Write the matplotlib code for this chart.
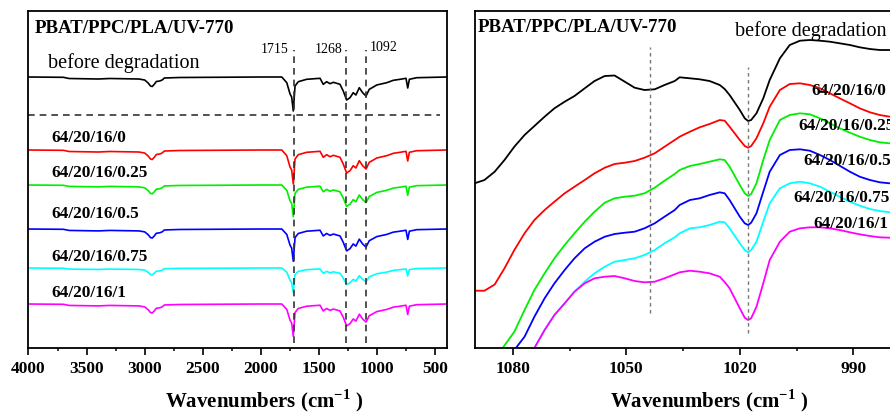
import matplotlib.pyplot as plt
import numpy as np

plt.rcParams['font.family'] = ['Liberation Serif', 'DejaVu Serif']
plt.rcParams['mathtext.fontset'] = 'custom'
plt.rcParams['mathtext.rm'] = 'Liberation Serif'
plt.rcParams['mathtext.bf'] = 'Liberation Serif:bold'

samples = ['before degradation', '64/20/16/0', '64/20/16/0.25',
           '64/20/16/0.5', '64/20/16/0.75', '64/20/16/1']
colors = ['black', '#ff0000', '#00ee00', '#0000ff', '#00ffff', '#ff00ff']

# ---- left panel: full FTIR spectra (depth of absorption below each baseline)
wn_full = [4000, 3700, 3650, 3400, 3300, 3050, 3000, 2970, 2950, 2935, 2915,
           2900, 2870, 2850, 2830, 2700, 2000, 1820, 1777, 1749, 1735, 1721,
           1706, 1678, 1606, 1491, 1463, 1434, 1405, 1376, 1319, 1291, 1262,
           1233, 1205, 1182, 1153, 1124, 1095, 1067, 1032, 1003, 917, 860,
           802, 751, 736, 722, 659, 400]
depth_full = [0, 0.3, 1.5, 2, 1.5, 2, 3, 6, 9, 9.5, 7,
              4.5, 4, 3, 1, 0.5, 0, 0, 5.7, 17, 20, 34,
              9, 4.7, 2.3, 1.3, 7.3, 4.7, 6.7, 5.3, 7.3, 14, 23,
              20.7, 15.7, 18, 10.7, 15.7, 19, 12.3, 10, 8, 5.7, 3.3,
              2.3, 1.3, 11, 2.3, 0.7, 0]
full_baseline = [271, 198, 163, 119, 80, 44]
full_scale = [1.0, 1.0, 0.93, 0.95, 0.72, 0.95]
full_label_y = [279.7, 206.3, 171.3, 129.7, 87, 51.3]
marked_peaks = [1715, 1268, 1092]

# ---- right panel: zoom 1090-979 cm-1
wn_a = [1087.5, 1084.8, 1082.2, 1079.6, 1076.9, 1074.3, 1071.6, 1069.0, 1066.3,
        1063.7, 1061.0, 1058.4, 1055.7, 1053.1, 1050.4, 1047.8, 1045.2, 1042.5,
        1039.9, 1037.2]
wn_b = [1035.9, 1033.2, 1030.6, 1028.0, 1025.3, 1024.0, 1022.7, 1020.0, 1018.7,
        1017.8, 1017.0, 1015.6, 1013.8, 1012.1, 1009.4, 1006.8, 1004.1, 1001.5,
        998.8, 996.2, 993.6, 990.9, 988.3, 985.6, 983.0, 980.4, 979.0]

zoom_wn = {
    'before degradation': [1090.1] + wn_a + wn_b,
    '64/20/16/0': [1090.1] + wn_a + wn_b,
    '64/20/16/0.25': [1083.8, 1082.7] + wn_a[3:] + wn_b,
    '64/20/16/0.5': [1080.3, 1079.2] + wn_a[4:] + wn_b,
    '64/20/16/0.75': [1075.4, 1074.3] + wn_a[6:] + wn_b,
    '64/20/16/1': [1075.4, 1074.3] + wn_a[6:] + wn_b,
}
zoom_int = {
    'before degradation': [164.7, 168, 176.3, 188, 201.3, 213, 222, 231.3, 239.7, 246.3,
                           252, 259.7, 267, 272, 272.5, 266.3, 260.3, 258, 258.7, 263, 267,
                           270.7, 269.7, 268.7, 267, 263, 259, 253, 238, 229.7, 227, 228,
                           234.7, 249.7, 268, 289.7, 303, 307.3, 308, 307.3, 306.3, 304.7,
                           303, 300.7, 299, 298, 298, 298],
    '64/20/16/0': [57.3, 57.3, 63.5, 79.7, 98, 114.7, 128, 138, 146.3, 154.7,
                   161.3, 168, 174.7, 180.3, 184, 185.3, 187, 190.3, 194.7, 201.3, 208,
                   211.3, 216.3, 220.7, 224, 228, 227.3, 221.3, 208, 202, 200.3, 202,
                   209.7, 224.7, 241.3, 258, 264, 264.7, 263, 259.7, 254.7, 249.7,
                   244.7, 239.7, 235.7, 233, 231.3, 230.5],
    '64/20/16/0.25': [-10, 0, 16.3, 38, 58, 74.7, 89.7, 103, 114.7, 126.3, 136.3,
                      145.3, 149.7, 151.3, 152.3, 154.7, 160.3, 167.3, 174,
                      178, 182, 184, 186.3, 188.7, 188, 181.3, 163, 154.7, 152, 154,
                      164.7, 188, 208, 228, 233, 234.7, 233.7, 229.7, 224.7, 219.7,
                      215.3, 211.3, 208, 205.7, 204.7, 204.3],
    '64/20/16/0.5': [-10, 0, 11.3, 31.3, 49.7, 64.7, 78, 89.7, 99.7, 106.3, 111.3,
                     114, 115.3, 116.3, 119.7, 124.7, 131.3, 138,
                     143, 148, 149.7, 153, 155.7, 154.7, 148, 131.3, 124.7, 123, 125.3,
                     134.7, 156.3, 176.3, 193, 198, 198.7, 197.3, 193, 188, 182.3,
                     176.3, 171.3, 168, 165.7, 164.7, 164.3],
    '64/20/16/0.75': [-10, 0, 18, 33, 44.7, 56.3, 66.3, 74.7, 81.3, 86.3, 88, 89.7,
                      93, 98, 104.7, 110.7,
                      114.7, 119.7, 120.7, 123, 126.3, 125.7, 119.7, 104.7, 98, 95.7, 98,
                      106.3, 126.3, 144.7, 159.7, 164.7, 166.3, 164.7, 161.3, 156.3,
                      151.3, 146.3, 142.3, 139, 137, 135.7, 135.3],
    '64/20/16/1': [-10, 0, 18, 33, 44.7, 56.3, 64.7, 69.7, 71.3, 72, 69.7, 67,
                   65.7, 66.3, 69.7, 73.7,
                   75.7, 77.3, 76.3, 74.7, 71.3, 66, 59.7, 39.7, 30.3, 28, 29.7,
                   41.3, 64.7, 88, 106.3, 116.3, 119.7, 120.7, 120.7, 119.7, 118,
                   115.7, 113.7, 112, 110.7, 110.3, 110],
}
zoom_label_x = [1021.3, 1001.0, 1004.6, 1003.3, 1005.9, 1000.6]
zoom_label_y = [312, 253, 218, 183, 146.3, 119.7]
zoom_marks = [1043.7, 1017.8]
zoom_mark_top = [301.3, 281.3]
zoom_mark_bottom = [34.7, 14.7]

fig = plt.figure(figsize=(8.9, 4.12), dpi=100)
ax1 = fig.add_axes([0.032, 0.1553, 0.470, 0.818])
ax2 = fig.add_axes([0.5337, 0.1553, 0.4697, 0.818])

tick_font = dict(fontsize=12.5, fontweight='bold')
for ax in (ax1, ax2):
    for sp in ax.spines.values():
        sp.set_linewidth(1.3)
    ax.set_yticks([])
    ax.set_ylim(0, 337)
    ax.tick_params(axis='x', which='major', direction='out', length=5, width=1.2, pad=4)
    ax.tick_params(axis='x', which='minor', direction='out', length=2.5, width=1.1)
    ax.set_xlabel('Wavenumbers (cm$^{\\mathbf{-1}}$ )', fontsize=15, fontweight='bold')
    ax.xaxis.label.set_va('top')

# left panel
wn_full = np.array(wn_full)
depth_full = np.array(depth_full)
for i, name in enumerate(samples):
    y = full_baseline[i] - full_scale[i] * depth_full
    ax1.plot(wn_full, y, color=colors[i], lw=1.2)
    if i == 0:
        ax1.text(3830, full_label_y[i], name, fontsize=14.5, va='baseline')
    else:
        ax1.text(3800, full_label_y[i], name, fontsize=12.4, fontweight='bold', va='baseline')

for p in marked_peaks:
    ax1.plot([p, p], [5, 298], ls=(0, (4, 3)), color='#333333', lw=1.2)
ax1.plot([4000, 455], [233, 233], ls=(0, (4, 3)), color='#333333', lw=1.2)
ax1.text(1760, 294.7, '1715', fontsize=10, ha='right', va='baseline')
ax1.text(1300, 294.7, '1268', fontsize=10, ha='right', va='baseline')
ax1.text(1064, 297, '1092', fontsize=10, ha='left', va='baseline')
ax1.text(3944, 314.7, 'PBAT/PPC/PLA/UV-770', fontsize=13.6, fontweight='bold', va='baseline')

ax1.set_xlim(4000, 400)
ax1.set_xticks(np.arange(4000, 400, -500))
ax1.set_xticks(np.arange(3750, 400, -500), minor=True)
ax1.set_xticklabels([str(v) for v in range(4000, 400, -500)], **tick_font)
ax1.xaxis.set_label_coords(0.563, -0.116)

# right panel
for i, name in enumerate(samples):
    ax2.plot(zoom_wn[name], zoom_int[name], color=colors[i], lw=1.3)
    if i == 0:
        ax2.text(zoom_label_x[i], zoom_label_y[i], name, fontsize=14.5, va='baseline')
    else:
        ax2.text(zoom_label_x[i], zoom_label_y[i], name, fontsize=12.4,
                 fontweight='bold', va='baseline')
for x, top, bot in zip(zoom_marks, zoom_mark_top, zoom_mark_bottom):
    ax2.plot([x, x], [bot, top], ls=(0, (2.5, 2.5)), color='#777777', lw=1.0)
ax2.text(1089.3, 315.7, 'PBAT/PPC/PLA/UV-770', fontsize=13.6, fontweight='bold', va='baseline')

ax2.set_xlim(1090, 979.5)
ax2.set_xticks([1080, 1050, 1020, 990])
ax2.set_xticks([1065, 1035, 1005], minor=True)
ax2.set_xticklabels(['1080', '1050', '1020', '990'], **tick_font)
ax2.xaxis.set_label_coords(0.56, -0.116)

fig.savefig('out.png', dpi=100)
